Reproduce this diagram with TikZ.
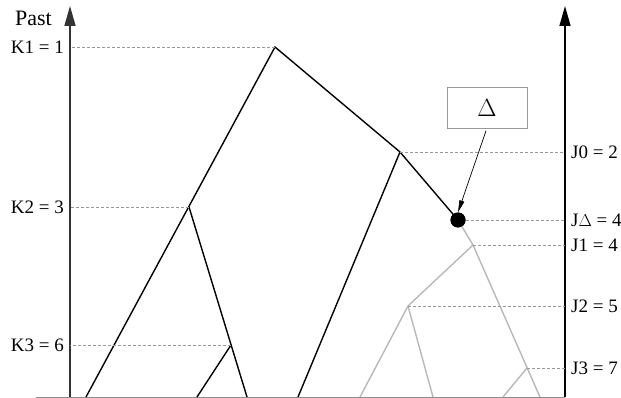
\documentclass[tikz,border=0pt]{standalone}
\usepackage{fontspec}
\setmainfont{Liberation Serif}
\usetikzlibrary{positioning, arrows.meta, calc}

\begin{document}
\begin{tikzpicture}[
    x=1pt, y=-1pt,
    axis/.style={line width=1.6pt, -{Triangle[length=20pt,width=11pt]}},
    branch/.style={line width=1.4pt, black},
    faded/.style={line width=1.4pt, black!28},
    guide/.style={dashed, black!40, line width=0.5pt, dash pattern=on 3pt off 2pt},
    lab/.style={font=\fontsize{19}{21}\selectfont, inner sep=1pt},
    labbox/.style={rectangle, draw=black!40, line width=0.6pt, minimum width=80pt, minimum height=41pt, font=\fontsize{25}{27}\selectfont}
]
    \useasboundingbox (0,0) rectangle (621,398);

    % axes and base line
    \coordinate (axL) at (70,397);
    \coordinate (axLtop) at (70,6);
    \coordinate (axR) at (565,397);
    \coordinate (axRtop) at (565,6);
    \coordinate (base0) at (36,397);
    \draw[black!45, line width=0.8pt] (base0) -- (axR);
    \draw[axis, black!80] (axL) -- (axLtop);
    \draw[axis] (axR) -- (axRtop);

    \node[lab, anchor=east, font=\fontsize{22}{24}\selectfont] (past) at (53,18) {Past};

    % coalescence points
    \coordinate (k1) at (275,47);
    \coordinate (k2) at (189,207);
    \coordinate (k3) at (231,345);
    \coordinate (j0) at (400,152);
    \coordinate (j1) at (473,245);
    \coordinate (j2) at (408,306);
    \coordinate (j3) at (527,368);
    \node[circle, fill=black, inner sep=0pt, minimum size=15pt] (jd) at (458,220) {};

    % leaves
    \coordinate (l1) at (86,397);
    \coordinate (l2) at (197,397);
    \coordinate (l3) at (247,397);
    \coordinate (l4) at (298,397);
    \coordinate (l5) at (360,397);
    \coordinate (l6) at (433,397);
    \coordinate (l7) at (503,397);
    \coordinate (l8) at (540,397);

    % black tree
    \draw[branch] (l1) -- (k1) -- (j0) -- (jd.center);
    \draw[branch] (k2) -- (l3);
    \draw[branch] (k3) -- (l2);
    \draw[branch] (j0) -- (l4);

    % grey tree
    \draw[faded] (jd.center) -- (j1) -- (l8);
    \draw[faded] (j1) -- (j2) -- (l5);
    \draw[faded] (j2) -- (l6);
    \draw[faded] (j3) -- (l7);
    \node[circle, fill=black, inner sep=0pt, minimum size=15pt] at (jd) {};

    % dashed guides and labels, left
    \foreach \pt/\txt in {k1/K1 = 1, k2/K2 = 3, k3/K3 = 6} {
        \draw[guide] (\pt) -- (\pt -| axL);
        \node[lab, anchor=east] at ($(\pt -| axL)+(-5,0)$) {\txt};
    }

    % dashed guides and labels, right
    \foreach \pt/\txt in {j0/J0 = 2, jd/J$\Delta$ = 4, j1/J1 = 4, j2/J2 = 5, j3/J3 = 7} {
        \draw[guide] (\pt) -- (\pt -| axR);
        \node[lab, anchor=west] at ($(\pt -| axR)+(5,0)$) {\txt};
    }

    % Delta box
    \node[labbox] (delta) at (487,108) {$\Delta$};
    \draw[-{Triangle[length=12pt,width=5pt]}, line width=0.7pt] ($(delta.south)+(-1,2)$) -- (jd.north);

\end{tikzpicture}
\end{document}
